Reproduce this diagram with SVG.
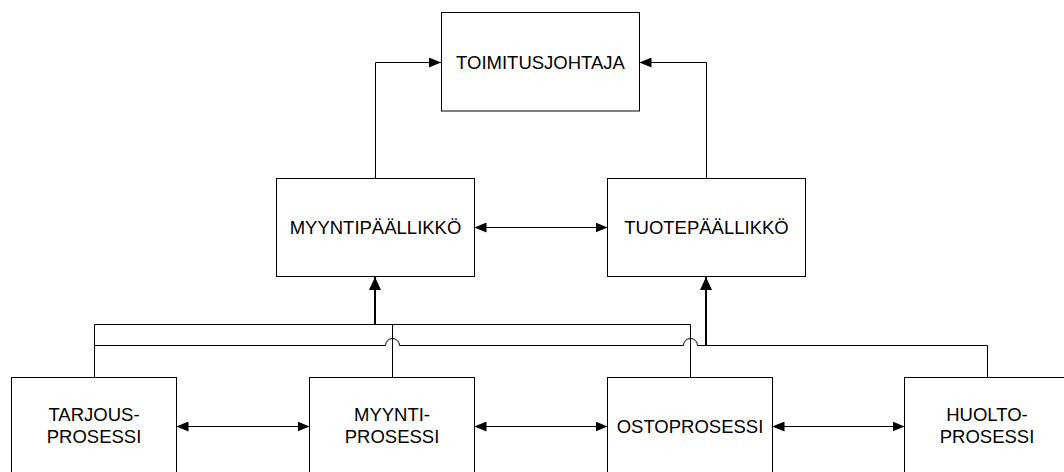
<svg xmlns="http://www.w3.org/2000/svg" width="1064" height="472" viewBox="0 0 1064 472">
<style>
.box{fill:#fff;stroke:#000;stroke-width:1}
.t{font-family:"Liberation Sans",Arial,sans-serif;font-size:18.5px;fill:#000;text-anchor:middle}
.c{fill:none;stroke:#000;stroke-width:1}
.a{marker-end:url(#ah)}
.d{marker-start:url(#ah);marker-end:url(#ah)}
.k{fill:none;stroke:#000;stroke-width:2;marker-end:url(#ahk)}
</style>
<defs>
<marker id="ah" viewBox="0 0 12 10" refX="12" refY="5" markerWidth="12" markerHeight="10" markerUnits="userSpaceOnUse" orient="auto-start-reverse">
<path d="M0,0 L12,5 L0,10 Z" fill="#000"/>
</marker>
<marker id="ahk" viewBox="0 0 13 12" refX="13" refY="6" markerWidth="13" markerHeight="12" markerUnits="userSpaceOnUse" orient="auto">
<path d="M0,0 L13,6 L0,12 Z" fill="#000"/>
</marker>
</defs>
<rect width="1064" height="472" fill="#fff"/>
<g id="connectors">
<path class="c a" d="M375.5,178.5 V62.5 H441"/>
<path class="c a" d="M706.5,178.5 V62.5 H639.5"/>
<path class="c d" d="M474.5,227.5 H607.5"/>
<path class="c d" d="M176.5,426.5 H309.5"/>
<path class="c d" d="M474.5,426.5 H607.5"/>
<path class="c d" d="M772.5,426.5 H904.5"/>
<path class="c" d="M94.5,377.5 V324.5 H690.5 V377.5"/>
<path class="c" d="M392.5,377.5 V324.5"/>
<path class="c" d="M94.5,345.5 H385.5 A7,7 0 0 1 399.5,345.5 H683.5 A7,7 0 0 1 697.5,345.5 H987.5 V377.5"/>
<path class="k" d="M375,324.5 V277"/>
<path class="k" d="M706,345.5 V277"/>
</g>
<g id="toimitusjohtaja">
<rect class="box" x="441.5" y="12.5" width="198" height="98.5"/>
<text class="t" x="540.5" y="68.5">TOIMITUSJOHTAJA</text>
</g>
<g id="myyntipaallikko">
<rect class="box" x="276.5" y="178.5" width="198" height="98"/>
<text class="t" x="375.5" y="234">MYYNTIPÄÄLLIKKÖ</text>
</g>
<g id="tuotepaallikko">
<rect class="box" x="607.5" y="178.5" width="198" height="98"/>
<text class="t" x="706.5" y="234">TUOTEPÄÄLLIKKÖ</text>
</g>
<g id="tarjousprosessi">
<rect class="box" x="11.5" y="377.5" width="165" height="99"/>
<text class="t" x="94" y="420.5">TARJOUS-</text>
<text class="t" x="94" y="443">PROSESSI</text>
</g>
<g id="myyntiprosessi">
<rect class="box" x="309.5" y="377.5" width="165" height="99"/>
<text class="t" x="392" y="420.5">MYYNTI-</text>
<text class="t" x="392" y="443">PROSESSI</text>
</g>
<g id="ostoprosessi">
<rect class="box" x="607.5" y="377.5" width="165" height="99"/>
<text class="t" x="690" y="432.5">OSTOPROSESSI</text>
</g>
<g id="huoltoprosessi">
<rect class="box" x="904.5" y="377.5" width="165" height="99"/>
<text class="t" x="987" y="420.5">HUOLTO-</text>
<text class="t" x="987" y="443">PROSESSI</text>
</g>
</svg>
